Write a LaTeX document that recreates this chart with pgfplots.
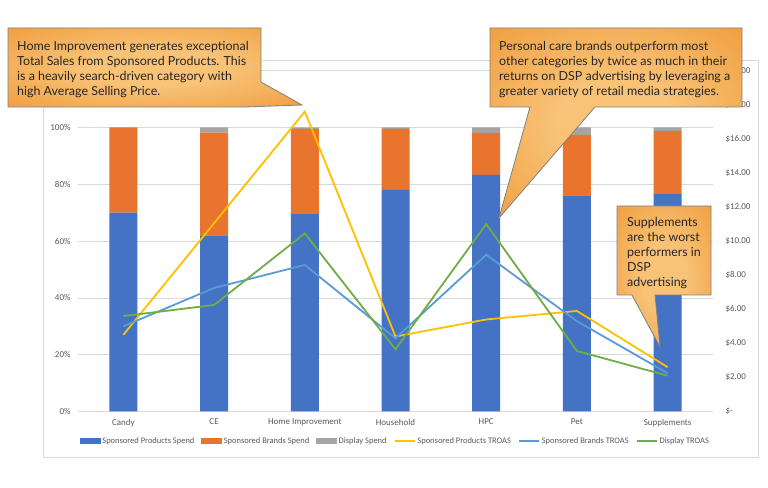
\documentclass[border=0pt]{standalone}
\usepackage{pgfplots}
\pgfplotsset{compat=1.18}
\usepackage{fontspec}
\setmainfont{Carlito}
\newfontfamily\calloutfont{Lato}

\definecolor{spblue}{HTML}{4472C4}
\definecolor{sborange}{HTML}{E8742E}
\definecolor{dspgray}{HTML}{A5A5A5}
\definecolor{spyellow}{HTML}{FFC000}
\definecolor{sbblue}{HTML}{5B9BD5}
\definecolor{dspgreen}{HTML}{70AD47}
\definecolor{txtgray}{HTML}{595959}
\definecolor{gridgray}{HTML}{D9D9D9}
\definecolor{calldark}{HTML}{EC8A1F}
\definecolor{calllight}{HTML}{F8C277}

\pgfdeclareradialshading{callout}{\pgfpoint{0bp}{0bp}}{color(0bp)=(calllight); color(12bp)=(calllight); color(50bp)=(calldark)}

\begin{document}
\begin{tikzpicture}
\path[use as bounding box, fill=white] (0bp,0bp) rectangle (768bp,488bp);
% chart frame
\draw[gridgray, line width=0.6bp] (43bp,30.3bp) rectangle (758bp,428bp);

% spend shares (left axis)
\begin{axis}[
    at={(78bp,76.5bp)}, anchor=south west,
    width=635bp, height=340.8bp, scale only axis,
    xmin=-0.5, xmax=6.5, ymin=0, ymax=120,
    ybar stacked, bar width=28bp,
    xtick={0,...,6},
    xticklabels={Candy,CE,Home Improvement,Household,HPC,Pet,Supplements},
    ytick={0,20,...,100},
    extra y ticks={120}, extra y tick labels={},
    yticklabel={\pgfmathprintnumber{\tick}\%},
    /pgf/number format/assume math mode=true,
    ymajorgrids, grid style={gridgray, line width=0.6bp},
    extra y tick style={grid=major},
    axis line style={draw=none},
    major tick length=0pt,
    tick label style={font=\fontsize{9}{10}\selectfont, text=txtgray},
    yticklabel style={xshift=-4bp},
    xticklabel style={yshift=-4bp},
]
\addplot[fill=spblue, draw=none] coordinates {(0,70) (1,62) (2,69.5) (3,78) (4,83.3) (5,76.1) (6,76.5)};
\addplot[fill=sborange, draw=none] coordinates {(0,30) (1,36.2) (2,30.0) (3,21.5) (4,14.8) (5,21.3) (6,22.2)};
\addplot[fill=dspgray, draw=none] coordinates {(0,0) (1,1.8) (2,0.5) (3,0.5) (4,1.9) (5,2.6) (6,1.3)};
\end{axis}

% TROAS (right axis)
\begin{axis}[
    at={(78bp,76.5bp)}, anchor=south west,
    width=635bp, height=340.8bp, scale only axis,
    xmin=-0.5, xmax=6.5, ymin=0, ymax=20,
    axis x line=none,
    axis y line*=right,
    axis line style={draw=none},
    major tick length=0pt,
    ytick={0,2,...,20},
    yticklabels={\$-,\$2.00,\$4.00,\$6.00,\$8.00,\$10.00,\$12.00,\$14.00,\$16.00,\$18.00,\$20.00},
    yticklabel style={font=\fontsize{9}{10}\selectfont, text=txtgray, anchor=west, xshift=9bp},
    legend columns=6,
    legend style={draw=none, fill=none, at={(0.5,-0.0866)}, anchor=center,
        font=\fontsize{8.5}{10}\selectfont, text=txtgray,
        /tikz/every even column/.append style={column sep=5bp}},
    legend image code/.code={\draw[#1] (0bp,0bp) -- (20bp,0bp);},
]
\addlegendimage{legend image code/.code={\fill[spblue] (0bp,-2.5bp) rectangle (20bp,2.5bp);}}
\addlegendentry{Sponsored Products Spend}
\addlegendimage{legend image code/.code={\fill[sborange] (0bp,-2.5bp) rectangle (20bp,2.5bp);}}
\addlegendentry{Sponsored Brands Spend}
\addlegendimage{legend image code/.code={\fill[dspgray] (0bp,-2.5bp) rectangle (20bp,2.5bp);}}
\addlegendentry{Display Spend}
\addplot[spyellow, line width=1.8bp, sharp plot] coordinates {(0,4.5) (1,11.05) (2,17.6) (3,4.4) (4,5.4) (5,5.9) (6,2.6)};
\addlegendentry{Sponsored Products TROAS}
\addplot[sbblue, line width=1.8bp, sharp plot] coordinates {(0,5.0) (1,7.25) (2,8.6) (3,4.3) (4,9.2) (5,5.3) (6,2.25)};
\addlegendentry{Sponsored Brands TROAS}
\addplot[dspgreen, line width=1.8bp, sharp plot] coordinates {(0,5.6) (1,6.25) (2,10.45) (3,3.65) (4,11.0) (5,3.55) (6,2.1)};
\addlegendentry{Display TROAS}
\end{axis}

% callouts
\tikzset{call/.style={shading=callout, draw=gray, line width=0.8bp},
  calltext/.style={anchor=north west, inner sep=0pt, align=left, font=\calloutfont\fontsize{12.5}{15.2}\selectfont, text=black!85}}
\shade[call] (8bp,460bp) -- (261bp,460bp) -- (261bp,406bp) -- (302bp,383bp) -- (245bp,381bp) -- (8bp,381bp) -- cycle;
\node[calltext] at (17bp,447bp) {Home Improvement generates exceptional\\Total Sales from Sponsored Products. This\\is a heavily search-driven category with\\high Average Selling Price.};

\shade[call] (490bp,460bp) -- (742bp,460bp) -- (742bp,381bp) -- (595bp,381bp) -- (499bp,270bp) -- (530bp,381bp) -- (490bp,381bp) -- cycle;
\node[calltext] at (499bp,447bp) {Personal care brands outperform most\\other categories by twice as much in their\\returns on DSP advertising by leveraging a\\greater variety of retail media strategies.};

\shade[call] (617bp,282bp) -- (711bp,282bp) -- (711bp,193bp) -- (655bp,193bp) -- (660bp,141bp) -- (632bp,193bp) -- (617bp,193bp) -- cycle;
\node[calltext] at (627bp,271bp) {Supplements\\are the worst\\performers in\\DSP\\advertising};
\end{tikzpicture}
\end{document}
